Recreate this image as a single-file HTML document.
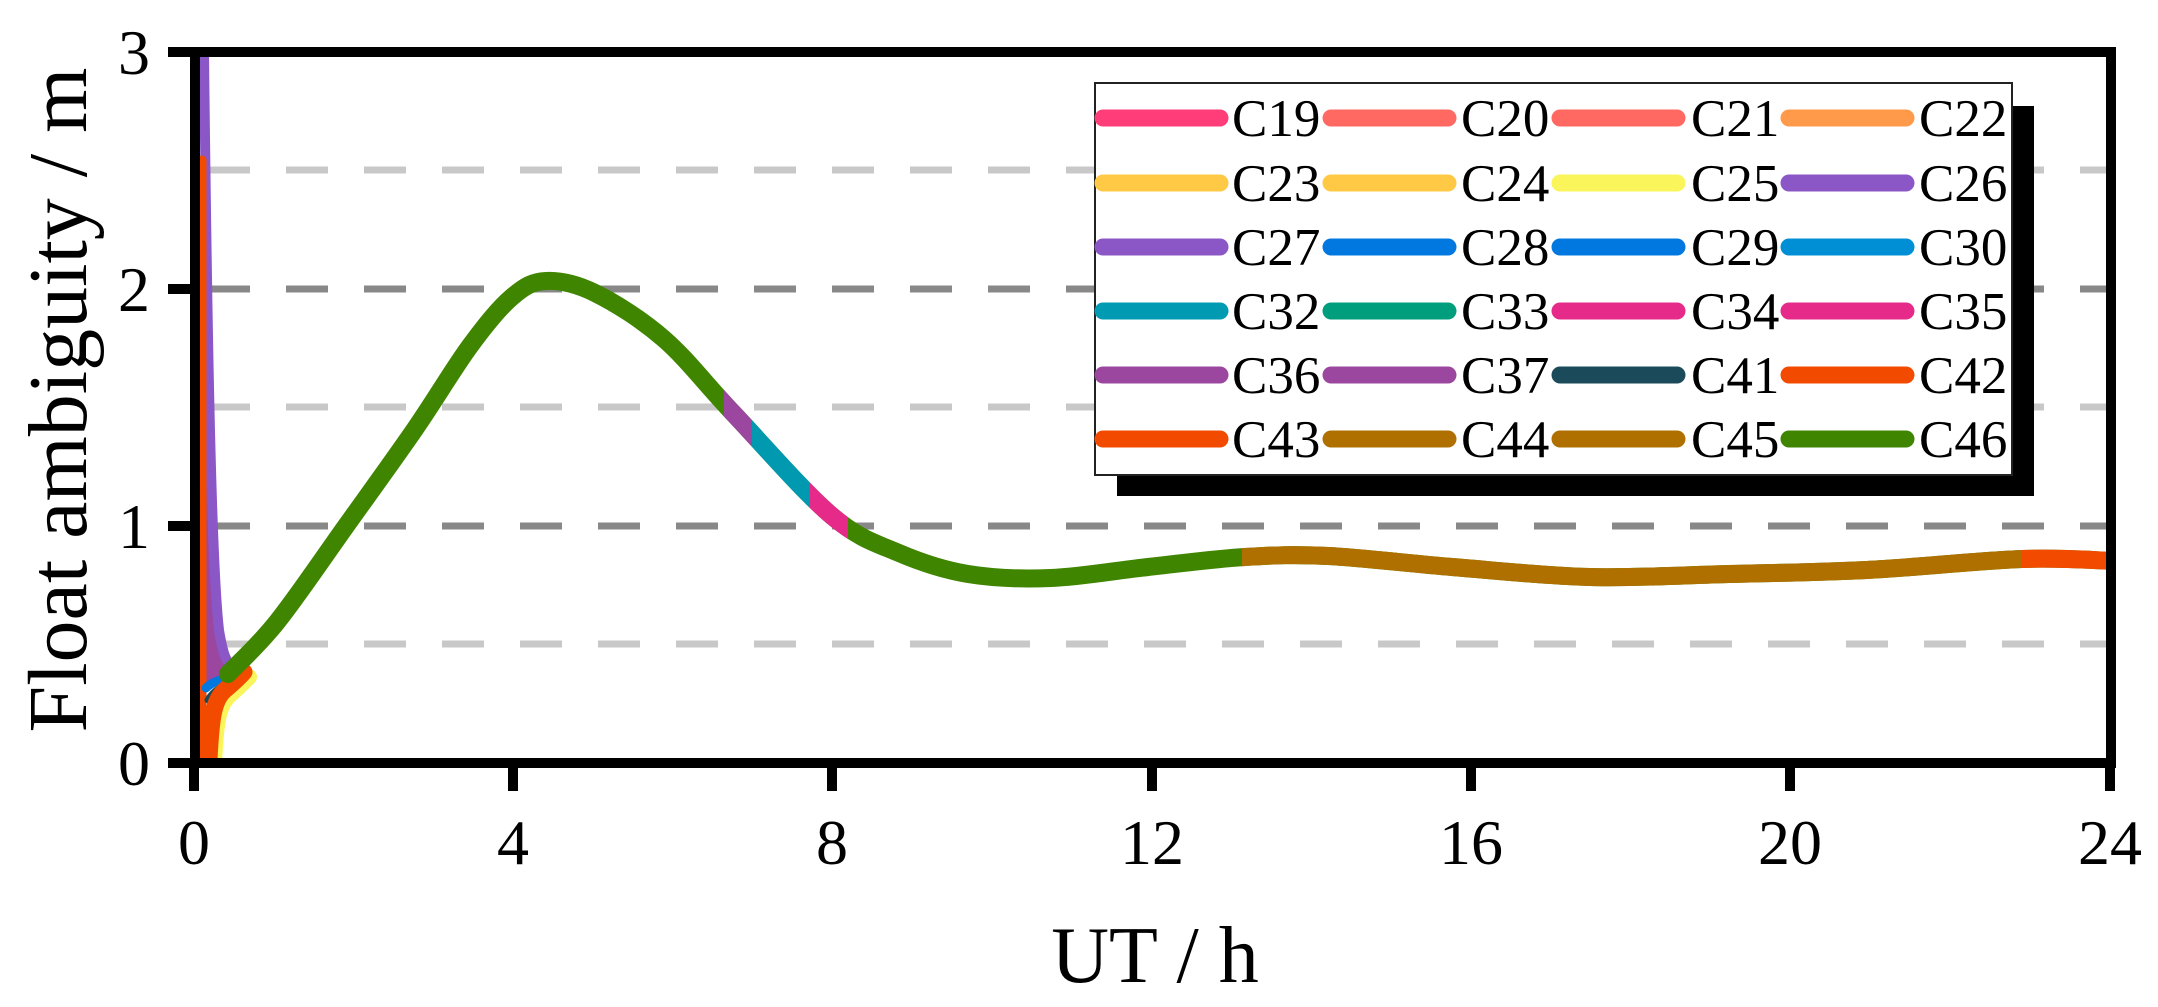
<!DOCTYPE html>
<html><head><meta charset="utf-8"><style>
html,body{margin:0;padding:0;background:#fff;}
svg{display:block;}
text{font-family:"Liberation Serif",serif;fill:#000;}
</style></head><body>
<svg id="s" width="2158" height="1007" viewBox="0 0 2158 1007" xmlns="http://www.w3.org/2000/svg">
<defs>
<clipPath id="plot"><rect x="199" y="57" width="1912" height="701"/></clipPath>
<clipPath id="cP"><rect x="724" y="0" width="28" height="1007"/></clipPath>
<clipPath id="cC"><rect x="752" y="0" width="58" height="1007"/></clipPath>
<clipPath id="cK"><rect x="810" y="0" width="38" height="1007"/></clipPath>
<clipPath id="cB"><rect x="1242" y="0" width="780" height="1007"/></clipPath>
<clipPath id="cO"><rect x="2022" y="0" width="136" height="1007"/></clipPath>
</defs>
<g stroke-width="7" stroke-dasharray="42 36" stroke-dashoffset="-8">
<line x1="200" y1="170" x2="2110" y2="170" stroke="#c8c8c8"/>
<line x1="200" y1="289" x2="2110" y2="289" stroke="#888"/>
<line x1="200" y1="407" x2="2110" y2="407" stroke="#c8c8c8"/>
<line x1="200" y1="526" x2="2110" y2="526" stroke="#888"/>
<line x1="200" y1="644" x2="2110" y2="644" stroke="#c8c8c8"/>
</g>
<g clip-path="url(#plot)" fill="none" stroke-linecap="round" stroke-linejoin="round">
<path d="M201,52 C203,300 206,560 216,630 C220,655 224,665 232,668 L205,692 Z" fill="#9b479f" stroke="none"/>
<path d="M204,52 C207,320 211,560 219,630 C223,655 227,664 233,667" stroke="#8b57c6" stroke-width="10"/>
<path d="M202,160 L202,760" stroke="#f24b00" stroke-width="9"/>
<path d="M206,688 C212,682 220,680 228,678" stroke="#0078e0" stroke-width="9"/>
<path d="M208,700 C214,690 222,686 232,684" stroke="#1b4a5a" stroke-width="7"/>
<path d="M211,760 C213,720 215,702 227,692 C234,686 240,680 246,674" stroke="#f9f55a" stroke-width="16" transform="translate(3,3)"/>
<path d="M209,760 C211,720 213,700 225,690 C232,684 238,679 244,672" stroke="#f24b00" stroke-width="17"/>
<path id="main" d="" stroke="#3f8500" stroke-width="18"/>
<path id="m1" d="" stroke="#9b479f" stroke-width="18" clip-path="url(#cP)"/>
<path id="m2" d="" stroke="#0099b0" stroke-width="18" clip-path="url(#cC)"/>
<path id="m3" d="" stroke="#e52a8a" stroke-width="18" clip-path="url(#cK)"/>
<path id="m4" d="" stroke="#b07000" stroke-width="18" clip-path="url(#cB)"/>
<path id="m5" d="" stroke="#f24b00" stroke-width="18" clip-path="url(#cO)"/>
</g>
<rect x="195" y="52" width="1916" height="711" fill="none" stroke="#000" stroke-width="10"/>
<g stroke="#000" stroke-width="10">
<line x1="168" y1="52" x2="195" y2="52"/><line x1="168" y1="289" x2="195" y2="289"/>
<line x1="168" y1="526" x2="195" y2="526"/><line x1="168" y1="763" x2="195" y2="763"/>
<line x1="194" y1="763" x2="194" y2="791"/><line x1="513" y1="763" x2="513" y2="791"/>
<line x1="832" y1="763" x2="832" y2="791"/><line x1="1152" y1="763" x2="1152" y2="791"/>
<line x1="1471" y1="763" x2="1471" y2="791"/><line x1="1790" y1="763" x2="1790" y2="791"/>
<line x1="2110" y1="763" x2="2110" y2="791"/>
</g>
<g font-size="64" text-anchor="end">
<text x="150" y="74">3</text><text x="150" y="311">2</text><text x="150" y="548">1</text><text x="150" y="785">0</text>
</g>
<g font-size="64" text-anchor="middle">
<text x="194" y="864">0</text><text x="513" y="864">4</text><text x="832" y="864">8</text><text x="1152" y="864">12</text>
<text x="1471" y="864">16</text><text x="1790" y="864">20</text><text x="2110" y="864">24</text>
</g>
<text x="1155" y="982" font-size="80" text-anchor="middle">UT / h</text>
<text transform="translate(86,400) rotate(-90)" font-size="84" text-anchor="middle">Float ambiguity / m</text>
<rect x="1117" y="106" width="917" height="390" fill="#000"/>
<rect x="1095" y="83" width="917" height="392" fill="#fff" stroke="#222" stroke-width="2"/>
<g id="leg" stroke-linecap="round" stroke-width="17" font-size="53"></g>
</svg>
<script>
var pts=[[228,674],[277,622],[346,526],[415,429],[470,346],[512,297],[546,281],[595,293],[664,339],[733,413],[832,516],[899,553],[968,574],[1051,578],[1148,567],[1245,557],[1328,556],[1452,567],[1590,577],[1729,574],[1867,570],[2022,559],[2116,561],[2130,561]];
function cr(p){var d="M"+p[0][0]+","+p[0][1];for(var i=0;i<p.length-1;i++){var p0=p[i-1]||p[i],p1=p[i],p2=p[i+1],p3=p[i+2]||p2;
var c1=[p1[0]+(p2[0]-p0[0])/6,p1[1]+(p2[1]-p0[1])/6],c2=[p2[0]-(p3[0]-p1[0])/6,p2[1]-(p3[1]-p1[1])/6];
d+=" C"+c1[0].toFixed(1)+","+c1[1].toFixed(1)+" "+c2[0].toFixed(1)+","+c2[1].toFixed(1)+" "+p2[0]+","+p2[1];}return d;}
var d=cr(pts);["main","m1","m2","m3","m4","m5"].forEach(function(id){document.getElementById(id).setAttribute("d",d);});
var L=[["C19","#ff3d79"],["C20","#ff6961"],["C21","#ff6961"],["C22","#ff9a4a"],
["C23","#ffc845"],["C24","#ffc845"],["C25","#f9f55a"],["C26","#8b57c6"],
["C27","#8b57c6"],["C28","#0078e0"],["C29","#0078e0"],["C30","#008fd5"],
["C32","#009ab3"],["C33","#009e7c"],["C34","#e52a8a"],["C35","#e52a8a"],
["C36","#9b479f"],["C37","#9b479f"],["C41","#1b4a5a"],["C42","#f24b00"],
["C43","#f24b00"],["C44","#b07000"],["C45","#b07000"],["C46","#3f8500"]];
var lx=[1103,1331,1560,1789],tx=[1232,1461,1691,1919],ys=[118,183,247,311,375,439];
var g=document.getElementById("leg"),h="";
L.forEach(function(e,i){var c=i%4,r=Math.floor(i/4),y=ys[r];
h+='<line x1="'+lx[c]+'" y1="'+y+'" x2="'+(lx[c]+117)+'" y2="'+y+'" stroke="'+e[1]+'"/>';
h+='<text x="'+tx[c]+'" y="'+(y+18)+'" stroke="none">'+e[0]+'</text>';});
g.innerHTML=h;
</script>
</body></html>
